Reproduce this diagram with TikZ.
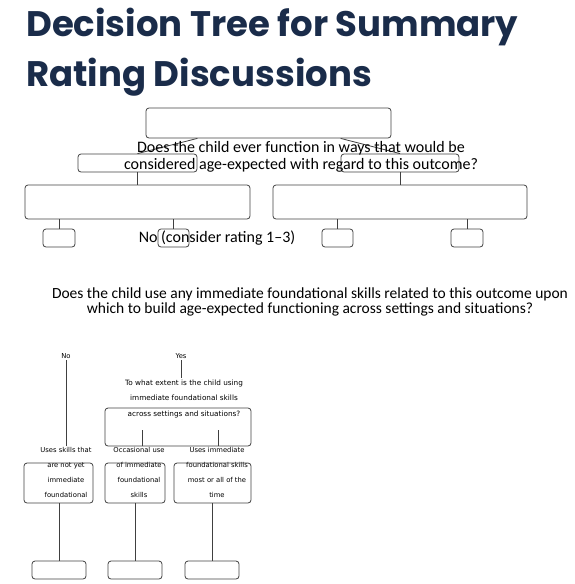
\documentclass[tikz,border=0pt]{standalone}
\usepackage{fontspec}
\setmainfont{Carlito}
\newfontfamily\titlefont{Poppins}
\newfontfamily\labelfont{DejaVu Sans}
\definecolor{titleblue}{HTML}{1A2C4A}
\definecolor{edgegray}{HTML}{404040}

\begin{document}
\begin{tikzpicture}[x=1pt,y=-1pt,
  box/.style={draw=edgegray,line width=.8pt,rounded corners=3pt,inner sep=0pt},
  link/.style={draw=edgegray,line width=.8pt},
  small/.style={font=\labelfont\fontsize{6.8}{15}\selectfont,align=center,inner sep=1.5pt}]
  \useasboundingbox (0,0) rectangle (575,584);
  % title
  \node[anchor=base west,inner sep=0pt,text=titleblue,
    font=\titlefont\bfseries\fontsize{35.5}{40}\selectfont] (title1) at (26,36)
    {Decision Tree for Summary};
  \node[anchor=base west,inner sep=0pt,text=titleblue,
    font=\titlefont\bfseries\fontsize{35.5}{40}\selectfont] (title2) at (26,86)
    {Rating Discussions};
  % upper tree
  \node[box,minimum width=245,minimum height=30] (top) at (268.5,123) {};
  \node[box,minimum width=119,minimum height=18] (lmid) at (137.5,163) {};
  \node[box,minimum width=118,minimum height=18] (rmid) at (400,163) {};
  \node[box,minimum width=225,minimum height=34] (lbig) at (137.5,202) {};
  \node[box,minimum width=254,minimum height=34] (rbig) at (400,202) {};
  \node[box,minimum width=32,minimum height=18] (s1) at (59,238) {};
  \node[box,minimum width=31,minimum height=18] (s2) at (173.5,238) {};
  \node[box,minimum width=31,minimum height=18] (s3) at (337.5,238) {};
  \node[box,minimum width=32,minimum height=18] (s4) at (467,238) {};
  \draw[link] (top.south -| lmid.east) -- (lmid.north);
  \draw[link] (top.south -| rmid.west) -- (rmid.north);
  \draw[link] (lmid.south) -- (lmid.south |- lbig.north);
  \draw[link] (rmid.south) -- (rmid.south |- rbig.north);
  \foreach \s/\b in {s1/lbig,s2/lbig,s3/rbig,s4/rbig}
    \draw[link] (\b.south -| \s.north) -- (\s.north);
  \node[align=center,font=\fontsize{16}{17}\selectfont] (ask1) at (301,156.5)
    {Does the child ever function in ways that would be\\
     considered age-expected with regard to this outcome?};
  \node[font=\fontsize{16}{17}\selectfont] (nolow) at (217,238)
    {No (consider rating 1--3)};
  \node[align=center,font=\fontsize{15.5}{15}\selectfont] (ask2) at (310,301.5)
    {Does the child use any immediate foundational skills related to this outcome upon\\
     which to build age-expected functioning across settings and situations?};
  % lower tree
  \node[small] (no) at (66,356) {No};
  \node[small] (yes) at (181,356) {Yes};
  \node[small,font=\labelfont\fontsize{7.3}{15.5}\selectfont] (extent) at (184,398.5)
    {To what extent is the child using\\immediate foundational skills\\
     across settings and situations?};
  \node[box,minimum width=146,minimum height=38] (extbox) at (178,427) {};
  \node[small] (lab1) at (66,472.5)
    {Uses skills that\\are not yet\\immediate\\foundational};
  \node[small] (lab2) at (139,472.5)
    {Occasional use\\of immediate\\foundational\\skills};
  \node[small] (lab3) at (217,472.5)
    {Uses immediate\\foundational skills\\most or all of the\\time};
  \node[box,minimum width=69,minimum height=40] (box1) at (58.5,483) {};
  \node[box,minimum width=60,minimum height=40] (box2) at (135,483) {};
  \node[box,minimum width=77,minimum height=40] (box3) at (212.5,483) {};
  \node[box,minimum width=54,minimum height=18] (end1) at (59,570) {};
  \node[box,minimum width=54,minimum height=18] (end2) at (135,570) {};
  \node[box,minimum width=54,minimum height=18] (end3) at (212,570) {};
  \draw[link] (no) -- (lab1);
  \draw[link] (yes.south) -- (yes.south |- extent.north);
  \draw[link] ([xshift=3]lab2.north) -- ++(0,-16);
  \draw[link] ([xshift=1]lab3.north) -- ++(0,-16);
  \draw[link] (box1.south -| end1.north) -- (end1.north);
  \draw[link] (box2.south) -- (end2.north);
  \draw[link] (box3.south -| end3.north) -- (end3.north);
\end{tikzpicture}
\end{document}
